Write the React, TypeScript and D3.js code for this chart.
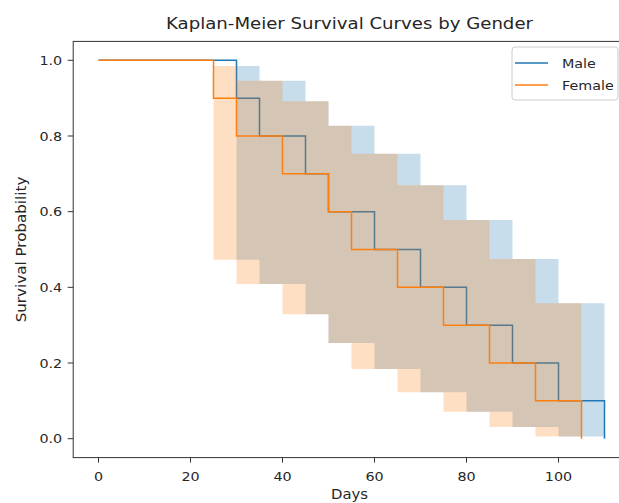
import React from "react";
import * as d3 from "d3";

// Kaplan-Meier estimates
const maleTimes = [0, 30, 35, 45, 50, 60, 70, 80, 90, 100, 110];
const maleSurv = [1.0, 0.9, 0.8, 0.7, 0.6, 0.5, 0.4, 0.3, 0.2, 0.1, 0.0];
const maleLower = [1.0, 0.473, 0.409, 0.329, 0.253, 0.184, 0.123, 0.071, 0.031, 0.006];
const maleUpper = [1.0, 0.985, 0.946, 0.892, 0.827, 0.753, 0.670, 0.578, 0.475, 0.358];

const femaleTimes = [0, 25, 30, 40, 50, 55, 65, 75, 85, 95, 105];
const femaleSurv = [1.0, 0.9, 0.8, 0.7, 0.6, 0.5, 0.4, 0.3, 0.2, 0.1, 0.0];
const femaleLower = [1.0, 0.473, 0.409, 0.329, 0.253, 0.184, 0.123, 0.071, 0.031, 0.006];
const femaleUpper = [1.0, 0.985, 0.946, 0.892, 0.827, 0.753, 0.670, 0.578, 0.475, 0.358];

const xTicks = [0, 20, 40, 60, 80, 100];
const yTicks = [0.0, 0.2, 0.4, 0.6, 0.8, 1.0];

const groups = [
  { name: "Male", times: maleTimes, surv: maleSurv, lower: maleLower, upper: maleUpper, color: "#1f77b4" },
  { name: "Female", times: femaleTimes, surv: femaleSurv, lower: femaleLower, upper: femaleUpper, color: "#ff7f0e" },
];

const W = 619;
const H = 503;
const FONT = "DejaVu Sans, sans-serif";
const TXT = "#262626";

export default function App() {
  const left = 73.2;
  const right = 629.8;
  const top = 41.4;
  const bottom = 457.6;

  const x = d3.scaleLinear().domain([-5.5, 115.5]).range([left, right]);
  const y = d3.scaleLinear().domain([-0.05, 1.05]).range([bottom, top]);

  const line = d3
    .line<[number, number]>()
    .x((d) => x(d[0]))
    .y((d) => y(d[1]))
    .curve(d3.curveStepAfter);

  const band = d3
    .area<{ t: number; lo: number; hi: number }>()
    .x((d) => x(d.t))
    .y0((d) => y(d.lo))
    .y1((d) => y(d.hi))
    .curve(d3.curveStepAfter);

  const layers: JSX.Element[] = [];
  groups.forEach((g) => {
    const pts = g.times.map((t, i) => [t, g.surv[i]] as [number, number]);
    const bpts = g.times.map((t, i) => {
      const k = Math.min(i, g.lower.length - 1);
      return { t, lo: g.lower[k], hi: g.upper[k] };
    });
    layers.push(
      <path key={g.name + "l"} d={line(pts) || ""} fill="none" stroke={g.color} strokeWidth={1.5} />
    );
    layers.push(<path key={g.name + "b"} d={band(bpts) || ""} fill={g.color} fillOpacity={0.25} stroke="none" />);
  });

  const sx = 1.1;

  return (
    <svg width={W} height={H} style={{ position: "absolute", left: 0, top: 0, background: "#fff" }} fontFamily={FONT}>
      <rect x={0} y={0} width={W} height={H} fill="#fff" />
      <defs>
        <clipPath id="plotclip">
          <rect x={left} y={top} width={right - left} height={bottom - top} />
        </clipPath>
      </defs>
      <g clipPath="url(#plotclip)">{layers}</g>

      {/* spines */}
      <rect x={left} y={top} width={right - left} height={bottom - top} fill="none" stroke="#333" strokeWidth={1} />

      {/* x axis */}
      {xTicks.map((t) => (
        <g key={"x" + t}>
          <line x1={x(t)} x2={x(t)} y1={bottom} y2={bottom + 5} stroke="#333" strokeWidth={1} />
          <text transform={`translate(${x(t)},${bottom + 23}) scale(${sx},1)`} textAnchor="middle" fontSize={13} fill={TXT}>
            {t}
          </text>
        </g>
      ))}
      <text transform={`translate(${(left + right) / 2 - 2},${H - 4}) scale(${sx},1)`} textAnchor="middle" fontSize={13.5} fill={TXT}>
        Days
      </text>

      {/* y axis */}
      {yTicks.map((t) => (
        <g key={"y" + t}>
          <line x1={left - 5.5} x2={left} y1={y(t)} y2={y(t)} stroke="#333" strokeWidth={1} />
          <text transform={`translate(${left - 11},${y(t) + 4.7}) scale(${sx},1)`} textAnchor="end" fontSize={13} fill={TXT}>
            {t.toFixed(1)}
          </text>
        </g>
      ))}
      <text
        transform={`translate(26,${(top + bottom) / 2}) rotate(-90) scale(1.12,1)`}
        textAnchor="middle"
        fontSize={13.5}
        fill={TXT}
      >
        Survival Probability
      </text>

      {/* title */}
      <text transform={`translate(${(left + right) / 2 - 2},29) scale(${sx},1)`} textAnchor="middle" fontSize={16.5} fill={TXT}>
        Kaplan-Meier Survival Curves by Gender
      </text>

      {/* legend */}
      <g transform={`translate(512,47)`}>
        <rect x={0} y={0} width={106} height={53} rx={3} fill="#fff" fillOpacity={0.8} stroke="#ccc" strokeWidth={1} />
        {groups.map((g, i) => (
          <g key={"lg" + g.name} transform={`translate(0,${16 + i * 22})`}>
            <line x1={3} x2={36} y1={0} y2={0} stroke={g.color} strokeWidth={1.5} />
            <text transform={`translate(50,4.5) scale(${sx},1)`} fontSize={13} fill={TXT}>
              {g.name}
            </text>
          </g>
        ))}
      </g>
    </svg>
  );
}
